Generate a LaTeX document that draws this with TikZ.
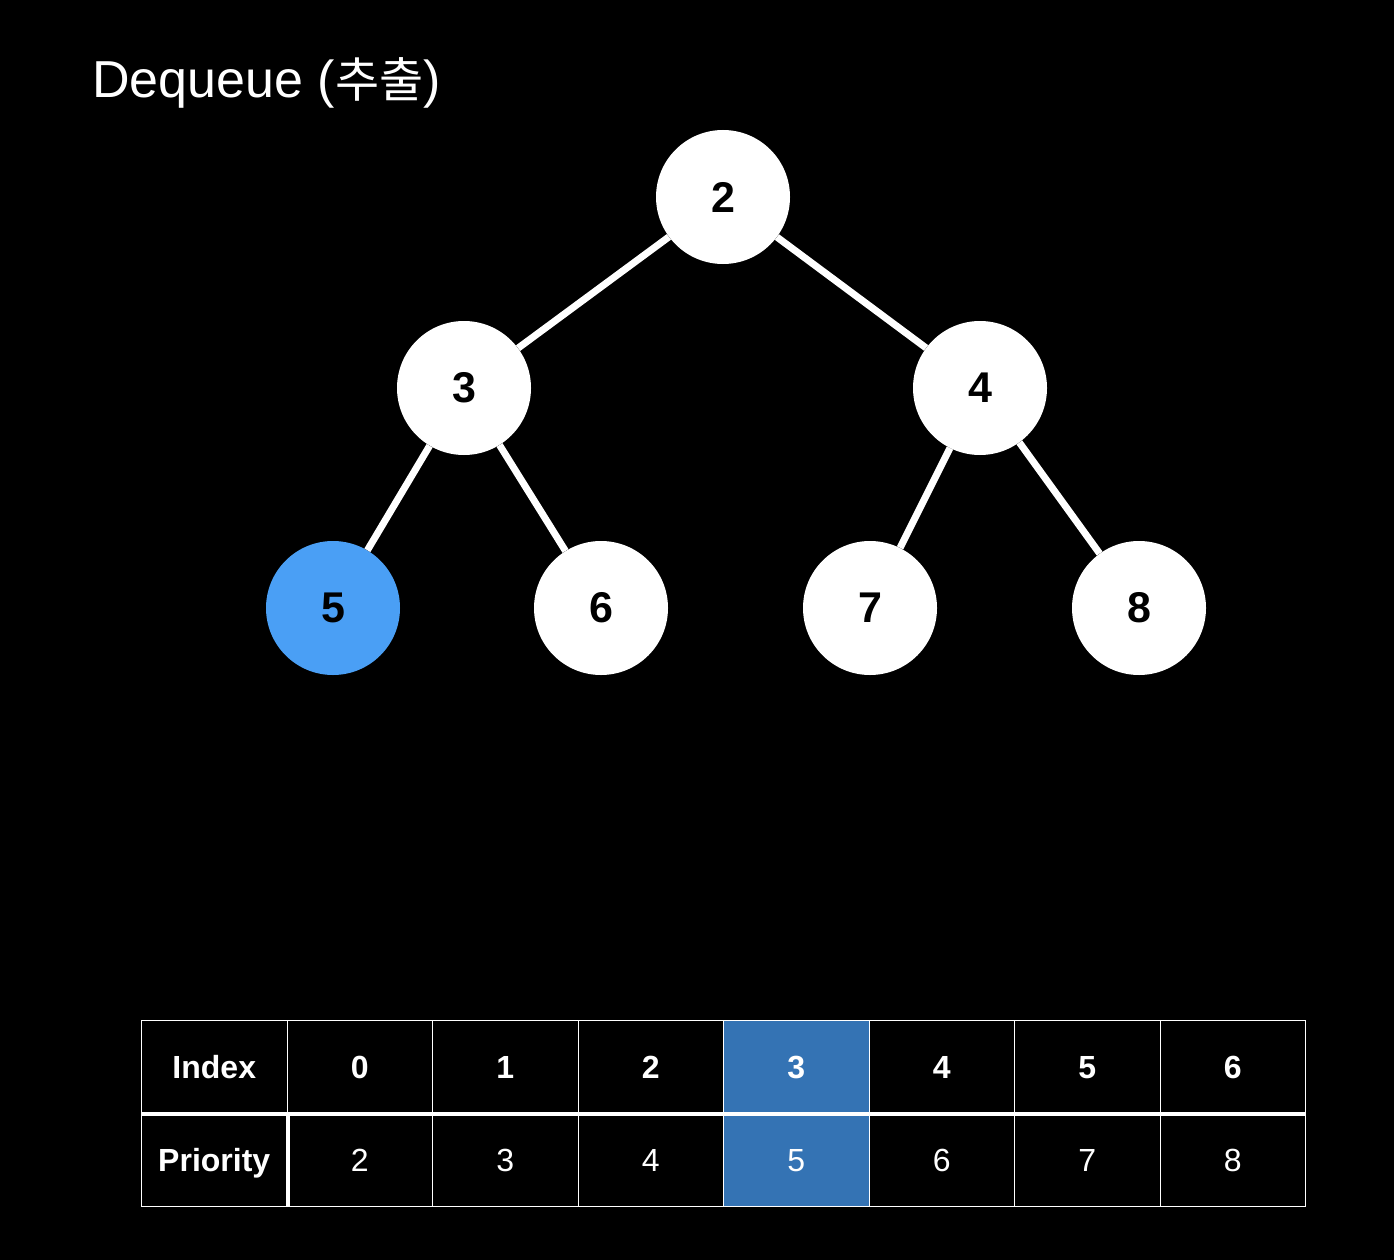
\documentclass[tikz,border=0pt]{standalone}
\usepackage{fontspec}
\setmainfont{Liberation Sans}
\newfontfamily\cjk{Noto Sans CJK KR}
\definecolor{nodeblue}{HTML}{4A9FF5}
\definecolor{cellblue}{HTML}{3473B4}
\begin{document}
\begin{tikzpicture}[x=1pt,y=-1pt,
  hnode/.style={circle,fill=white,minimum size=134pt,inner sep=0pt,font=\fontsize{43}{43}\selectfont\bfseries,text=black},
  edge/.style={draw=white,line width=7pt},
  cell/.style={draw=white,line width=1pt,minimum width=145.5pt,minimum height=93pt,inner sep=0pt,anchor=north west,text=white,text height=23pt,text depth=0pt},
  hcell/.style={cell,font=\fontsize{32}{32}\selectfont\bfseries},
  vcell/.style={cell,font=\fontsize{32}{32}\selectfont}]
\fill[black] (0,0) rectangle (1394,1260);
\useasboundingbox (0,0) rectangle (1394,1260);
\node[anchor=base west,text=white,font=\fontsize{52}{52}\selectfont,inner sep=0pt] (title) at (92,98) {Dequeue ({\cjk\fontsize{48}{48}\selectfont 추출})};
\node[hnode] (n2) at (723,197) {2};
\node[hnode] (n3) at (464,388) {3};
\node[hnode] (n4) at (980,388) {4};
\node[hnode,fill=nodeblue] (n5) at (333,608) {5};
\node[hnode] (n6) at (601,608) {6};
\node[hnode] (n7) at (870,608) {7};
\node[hnode] (n8) at (1139,608) {8};
\draw[edge] (n2) -- (n3);
\draw[edge] (n2) -- (n4);
\draw[edge] (n3) -- (n5);
\draw[edge] (n3) -- (n6);
\draw[edge] (n4) -- (n7);
\draw[edge] (n4) -- (n8);
% table
\node[hcell] (h0) at (141,1020) {Index};
\node[hcell] (h1) at (286.5,1020) {0};
\node[hcell] (h2) at (432,1020) {1};
\node[hcell] (h3) at (577.5,1020) {2};
\node[hcell,fill=cellblue] (h4) at (723,1020) {3};
\node[hcell] (h5) at (868.5,1020) {4};
\node[hcell] (h6) at (1014,1020) {5};
\node[hcell] (h7) at (1159.5,1020) {6};
\node[hcell] (p0) at (141,1113) {Priority};
\node[vcell] (p1) at (286.5,1113) {2};
\node[vcell] (p2) at (432,1113) {3};
\node[vcell] (p3) at (577.5,1113) {4};
\node[vcell,fill=cellblue] (p4) at (723,1113) {5};
\node[vcell] (p5) at (868.5,1113) {6};
\node[vcell] (p6) at (1014,1113) {7};
\node[vcell] (p7) at (1159.5,1113) {8};
\draw[white,line width=4pt] (h0.south west) -- (h7.south east);
\draw[white,line width=4pt] (p0.north east) -- (p0.south east);
\end{tikzpicture}
\end{document}
